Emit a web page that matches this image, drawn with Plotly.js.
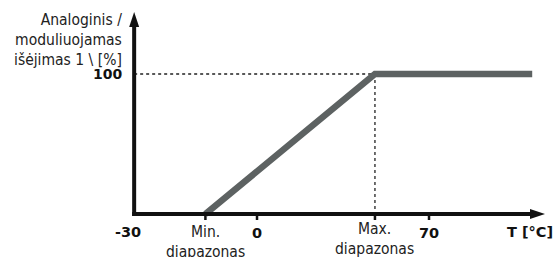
<!DOCTYPE html>
<html><head><meta charset="utf-8">
<script src="https://cdn.plot.ly/plotly-3.0.1.min.js"></script>
<style>html,body{margin:0;padding:0;background:#fff}#chart{width:554px;height:257px}</style>
</head><body><div id="chart"></div>
<script>
// ---- data ----
const axisOriginX = -50;             // schematic start of the temperature axis
const axisOriginLabel = '-30';
const tempTickValues = [0, 70];
const tempTickLabels = ['0', '70'];
const rangeValues = [-21, 48];       // Min. / Max. diapazonas
const rangeLabels = ['Min.<br>diapazonas', 'Max.<br>diapazonas'];
const curveX = [-21, 48, 112];
const curveY = [0, 100, 100];
const outputTickValue = 100;
const outputTickLabel = '100';
const xAxisEnd = 117.2;
const yAxisEnd = 144.3;
const xAxisTitlePos = 111;
const xAxisTitle = 'T [°C]';
const yAxisTitle = 'Analoginis /<br>moduliuojamas<br>išėjimas 1 \\ [%]';

// ---- layout helpers ----
const W = 554, H = 257;
const xRange = [-104.6, 120.87];
const yRange = [-30.71, 152.86];
const pxX = W / (xRange[1] - xRange[0]);
const pxY = H / (yRange[1] - yRange[0]);
const FONT = "'DejaVu Sans Condensed', 'DejaVu Sans', sans-serif";
const BFONT = "'DejaVu Sans', sans-serif";
const axisColor = '#111111';
const headLen = 15, headHalf = 5, axisW = 4;
const rangeLabelShift = [-28, -25];

const traces = [{
  x: curveX, y: curveY, mode: 'lines', type: 'scatter',
  line: {color: '#5d6262', width: 6.5}, hoverinfo: 'skip'
}];

const dx = p => p / pxX, dy = p => p / pxY;
const shapes = [
  {type: 'line', xref: 'x', yref: 'y', x0: axisOriginX, x1: rangeValues[1], y0: outputTickValue, y1: outputTickValue,
   line: {color: '#222', width: 1.3, dash: 'dot'}, layer: 'below'},
  {type: 'line', xref: 'x', yref: 'y', x0: rangeValues[1], x1: rangeValues[1], y0: outputTickValue, y1: 0,
   line: {color: '#222', width: 1.3, dash: 'dot'}, layer: 'below'},
  // x axis line
  {type: 'line', xref: 'x', yref: 'y', x0: axisOriginX - dx(axisW / 2), x1: xAxisEnd - dx(headLen - 1), y0: 0, y1: 0,
   line: {color: axisColor, width: axisW}, layer: 'above'},
  // y axis line
  {type: 'line', xref: 'x', yref: 'y', x0: axisOriginX, x1: axisOriginX, y0: -dy(axisW / 2), y1: yAxisEnd - dy(headLen - 1),
   line: {color: axisColor, width: axisW}, layer: 'above'},
  // x arrow head
  {type: 'path', xref: 'x', yref: 'y', layer: 'above', fillcolor: axisColor, line: {width: 0},
   path: `M${xAxisEnd},0 L${xAxisEnd - dx(headLen)},${dy(headHalf)} L${xAxisEnd - dx(headLen)},${-dy(headHalf)} Z`},
  // y arrow head
  {type: 'path', xref: 'x', yref: 'y', layer: 'above', fillcolor: axisColor, line: {width: 0},
   path: `M${axisOriginX},${yAxisEnd} L${axisOriginX - dx(headHalf)},${yAxisEnd - dy(headLen)} L${axisOriginX + dx(headHalf)},${yAxisEnd - dy(headLen)} Z`}
];
[...rangeValues, ...tempTickValues].forEach(v => {
  shapes.push({type: 'line', xref: 'x', yref: 'y', x0: v, x1: v, y0: 0, y1: -dy(6),
    line: {color: axisColor, width: 2.5}, layer: 'above'});
});

const annotations = [
  {x: axisOriginX, y: 0, xref: 'x', yref: 'y', text: '<b>' + axisOriginLabel + '</b>', showarrow: false,
   xanchor: 'center', yanchor: 'middle', xshift: -6, yshift: -18, font: {family: BFONT, size: 14.5, color: '#111'}},
  {x: xAxisTitlePos, y: 0, xref: 'x', yref: 'y', text: '<b>' + xAxisTitle + '</b>', showarrow: false,
   xanchor: 'center', yanchor: 'middle', yshift: -18, font: {family: BFONT, size: 14.5, color: '#111'}},
  {x: axisOriginX, y: outputTickValue, xref: 'x', yref: 'y', text: '<b>' + outputTickLabel + '</b>', showarrow: false,
   xanchor: 'right', yanchor: 'middle', xshift: -10, font: {family: BFONT, size: 14, color: '#111'}},
  {x: axisOriginX, y: outputTickValue, xref: 'x', yref: 'y', text: yAxisTitle, showarrow: false, align: 'right',
   xanchor: 'right', yanchor: 'middle', xshift: -10, yshift: 34, font: {family: FONT, size: 15.5, color: '#222'}}
];
tempTickValues.forEach((v, i) => annotations.push({
  x: v, y: 0, xref: 'x', yref: 'y', text: '<b>' + tempTickLabels[i] + '</b>', showarrow: false,
  xanchor: 'center', yanchor: 'middle', yshift: -19, font: {family: BFONT, size: 14.5, color: '#111'}
}));
rangeValues.forEach((v, i) => annotations.push({
  x: v, y: 0, xref: 'x', yref: 'y', text: rangeLabels[i], showarrow: false, align: 'center',
  xanchor: 'center', yanchor: 'middle', yshift: rangeLabelShift[i], font: {family: FONT, size: 15.5, color: '#222'}
}));

const layout = {
  width: W, height: H, margin: {l: 0, r: 0, t: 0, b: 0, pad: 0},
  paper_bgcolor: '#fff', plot_bgcolor: '#fff', showlegend: false,
  xaxis: {range: xRange, visible: false, fixedrange: true},
  yaxis: {range: yRange, visible: false, fixedrange: true},
  shapes: shapes, annotations: annotations
};
Plotly.newPlot('chart', traces, layout, {staticPlot: true, displayModeBar: false});
</script></body></html>
